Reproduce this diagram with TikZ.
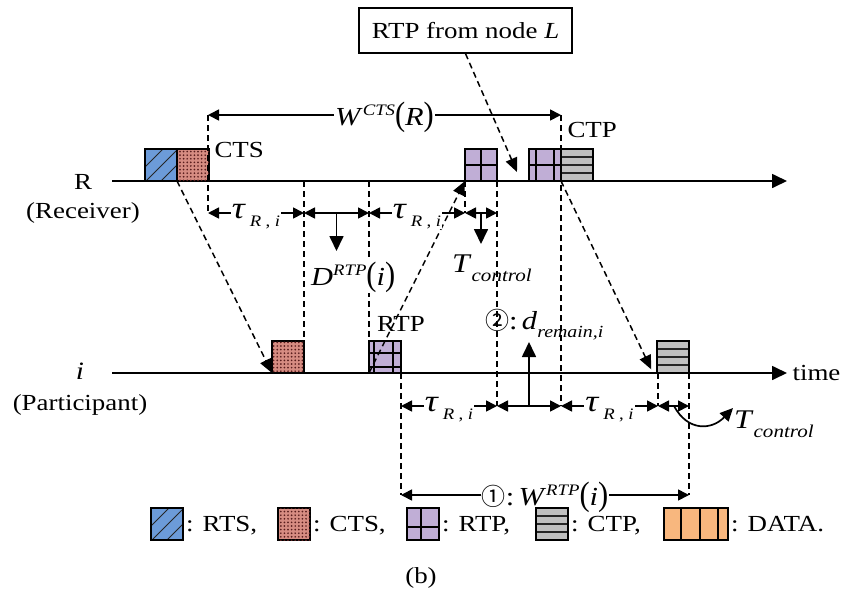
\documentclass[tikz,border=0pt]{standalone}
\usepackage{fontspec}
\setmainfont[FakeStretch=1.17]{Liberation Serif}
\newfontfamily\cjk{Noto Sans CJK SC}
\usetikzlibrary{arrows.meta,patterns.meta}
\definecolor{rtsc}{RGB}{108,155,217}
\definecolor{ctsc}{RGB}{214,140,130}
\definecolor{ctsdot}{RGB}{90,30,30}
\definecolor{rtpc}{RGB}{192,174,214}
\definecolor{ctpc}{RGB}{192,192,192}
\definecolor{datac}{RGB}{248,183,126}
\newcommand\myfs[1]{\fontsize{#1}{#1}\selectfont}
\newcommand\tallp[1]{\scalebox{1}[1.3]{#1}}
\newcommand\taulab{{\myfs{31}\textit{τ}}\,\raisebox{-8pt}{\myfs{16}\textit{R}\;,\;\textit{i}}}
\newcommand\tctl{{\myfs{27}\textit{T}}\raisebox{-9pt}{\myfs{18}\textit{control}}}
\newcommand\wcts{{\myfs{26}\textit{W}}\raisebox{10pt}{\myfs{16}\textit{CTS}}{\myfs{26}\tallp{(}\textit{R}\tallp{)}}}
\newcommand\drtp{{\myfs{26}\textit{D}}\raisebox{10pt}{\myfs{16}\textit{RTP}}{\myfs{26}\tallp{(}\textit{i}\tallp{)}}}
\newcommand\wrtp{{\cjk\myfs{24}①}{\myfs{26}:\,\textit{W}}\raisebox{10pt}{\myfs{16}\textit{RTP}}{\myfs{26}\tallp{(}\textit{i}\tallp{)}}}
\newcommand\drem{{\cjk\myfs{24}②}{\myfs{26}:\,\textit{d}}\raisebox{-8pt}{\myfs{17}\textit{remain,i}}}
\begin{document}
\begin{tikzpicture}[x=1pt,y=-1pt,
  every node/.append style={font=\myfs{23}},
  >={Triangle[length=11pt,width=11pt]},
  ln/.style={line width=1.7pt},
  dsh/.style={line width=1.5pt, dash pattern=on 6pt off 4pt},
  dtip/.style={-{Triangle[length=14pt,width=12pt]}},
  bigtip/.style={-{Triangle[length=15pt,width=14pt]}},
  lbl/.style={fill=white, inner sep=1pt},
  pkt/.style={draw, line width=1.8pt, minimum width=32pt, minimum height=32pt,
    inner sep=0pt, outer sep=0pt, anchor=south west},
  rtsbox/.style={pkt, fill=rtsc, path picture={
    \foreach \o in {-14,1,16}
      \draw[line width=1pt, black!85] ([xshift=\o]path picture bounding box.south west) -- ++(40pt,40pt);}},
  ctsbox/.style={pkt, fill=ctsc, postaction={pattern={Dots[distance=3.6pt,radius=0.95pt]}, pattern color=ctsdot}},
  rtpbox/.style 2 args={pkt, fill=rtpc, path picture={
    \foreach \v in {#1}
      \draw[line width=2.4pt] ([xshift=\v]path picture bounding box.north west) -- ([xshift=\v]path picture bounding box.south west);
    \foreach \h in {#2}
      \draw[line width=2.4pt] ([yshift=-\h]path picture bounding box.north west) -- ([yshift=-\h]path picture bounding box.north east);}},
  ctpbox/.style={pkt, fill=ctpc, path picture={
    \foreach \h in {8,16,24}
      \draw[line width=2.4pt, black!85] ([yshift=-\h]path picture bounding box.north west) -- ([yshift=-\h]path picture bounding box.north east);}},
  databox/.style={pkt, minimum width=64pt, fill=datac, path picture={
    \foreach \v in {17,36,54}
      \draw[line width=1.8pt] ([xshift=\v]path picture bounding box.north west) -- ([xshift=\v]path picture bounding box.south west);}}
]
\path[use as bounding box] (0,0) rectangle (841,598);

% axes
\coordinate (ar0) at (112,181); \coordinate (ar1) at (787,181);
\coordinate (ai0) at (112,373); \coordinate (ai1) at (787,373);
\draw[ln, bigtip] (ar0) -- (ar1);
\draw[ln, bigtip] (ai0) -- (ai1);

% packets on R row
\node[rtsbox] (rts1) at (145,181) {};
\node[ctsbox] (cts1) at (177,181) {};
\node[rtpbox={16}{16}] (rtp1) at (465,181) {};
\node[rtpbox={7,25}{16}] (rtp2) at (529,181) {};
\node[ctpbox] (ctp1) at (561,181) {};
% packets on i row
\node[ctsbox] (cts2) at (272,373) {};
\node[rtpbox={5,24}{12,26}] (rtp3) at (369,373) {};
\node[ctpbox] (ctp2) at (657,373) {};

% left labels
\node (lR) at (83,182) {R};
\node (lRx) at (83,213) {(Receiver)};
\node[font=\myfs{25}] (li) at (80,371) {\textit{i}};
\node (lix) at (80,405) {(Participant)};
\node[anchor=west] (ltime) at (789,373) {time};

% packet labels
\node[anchor=west] (lcts) at (211,150) {CTS};
\node[anchor=west] (lctp) at (564,130) {CTP};
\node (lrtp) at (401,324) {RTP};
\node[draw, line width=1.3pt, minimum width=213pt, minimum height=45pt, inner sep=0pt] (boxL) at (465.5,30.5) {RTP from node \textit{L}};

% coordinates
\coordinate (w1) at (208,115); \coordinate (w2) at (561,115);
\coordinate (tA) at (208,213); \coordinate (tB) at (304,213); \coordinate (tC) at (369,213);
\coordinate (tD) at (465,213); \coordinate (tE) at (497,213);
\coordinate (pB) at (304,181); \coordinate (pC) at (369,181);
\coordinate (bA) at (401,406); \coordinate (bE) at (497,406); \coordinate (bF) at (561,406);
\coordinate (bG) at (658,406); \coordinate (bH) at (689,406);
\coordinate (gG) at (658,373);
\coordinate (wr1) at (401,495); \coordinate (wr2) at (689,495);
\coordinate (mD0) at (336.5,213); \coordinate (mD1) at (336.5,251);
\coordinate (mT0) at (481,213); \coordinate (mT1) at (481,244);
\coordinate (mR0) at (529,406); \coordinate (mR1) at (529,342);
\coordinate (cT0) at (674,406); \coordinate (cT1) at (733,408);
\coordinate (cL) at (517,172);
\coordinate (cQ) at (653,373);

% vertical dashed guides
\draw[dsh] (w1) -- (tA);
\draw[dsh] (pB) -- (cts2.north east);
\draw[dsh] (pC) -- (rtp3.north west);
\draw[dsh] (rtp1.south west) -- (tD);
\draw[dsh] (rtp1.south east) -- (bE);
\draw[dsh] (w2) -- (bF);
\draw[dsh] (rtp3.south east) -- (wr1);
\draw[dsh] (ctp2.south east) -- (wr2);
\draw[dsh] (gG) -- (bG);

% dashed message arrows
\draw[dsh, dtip] (rts1.south east) -- (cts2.south west);
\draw[dsh, dtip] (rtp3.south west) -- (rtp1.south west);
\draw[dsh, dtip] (boxL.south) -- (cL);
\draw[dsh, dtip, shorten >=4pt] (ctp1.south west) -- (cQ);

% W^CTS(R)
\draw[ln, <->] (w1) -- node[lbl, anchor=base, yshift=-10pt] (lw) {\wcts} (w2);

% upper tau row
\draw[ln, <->] (tA) -- node[lbl, anchor=base, yshift=-5pt] (lt1) {\taulab} (tB);
\draw[ln, <->] (tB) -- (tC);
\draw[ln, <->] (tC) -- node[lbl, anchor=base, yshift=-5pt] (lt2) {\taulab} (tD);
\draw[ln, <->] (tD) -- (tE);
\draw[ln, bigtip] (mD0) -- (mD1);
\draw[ln, bigtip] (mT0) -- (mT1);
\node[lbl, anchor=base west] (ld) at (310,285) {\drtp};
\node[anchor=base west, inner sep=1pt] (ltc1) at (451,272) {\tctl};

% lower tau row
\draw[ln, <->] (bA) -- node[lbl, anchor=base, yshift=-5pt] (lt3) {\taulab} (bE);
\draw[ln, <->] (bE) -- (bF);
\draw[ln, <->] (bF) -- node[lbl, anchor=base, yshift=-5pt] (lt4) {\taulab} (bG);
\draw[ln, <->] (bG) -- (bH);
\draw[ln, bigtip] (mR0) -- (mR1);
\node[anchor=base west, inner sep=1pt] (ldr) at (484,329) {\drem};
\draw[ln, -{Triangle[length=13pt,width=12pt]}] (cT0) .. controls (688,432) and (712,430) .. (cT1);
\node[anchor=base west, inner sep=1pt] (ltc2) at (733,428) {\tctl};

% W^RTP(i)
\draw[ln, <->] (wr1) -- node[lbl, anchor=base, yshift=-10pt] (lwr) {\wrtp} (wr2);

% legend
\node[rtsbox] (gRTS) at (151,540) {};
\node[anchor=base west, inner sep=3pt] (tRTS) at ([yshift=-7pt]gRTS.east) {: RTS,};
\node[ctsbox] (gCTS) at (278,540) {};
\node[anchor=base west, inner sep=3pt] (tCTS) at ([yshift=-7pt]gCTS.east) {: CTS,};
\node[rtpbox={14}{19}] (gRTP) at (407,540) {};
\node[anchor=base west, inner sep=3pt] (tRTP) at ([yshift=-7pt]gRTP.east) {: RTP,};
\node[ctpbox] (gCTP) at (536,540) {};
\node[anchor=base west, inner sep=3pt] (tCTP) at ([yshift=-7pt]gCTP.east) {: CTP,};
\node[databox] (gDATA) at (664,540) {};
\node[anchor=base west, inner sep=3pt] (tDATA) at ([yshift=-7pt]gDATA.east) {: DATA.};

\node (cap) at (421,578) {(b)};
\end{tikzpicture}
\end{document}
